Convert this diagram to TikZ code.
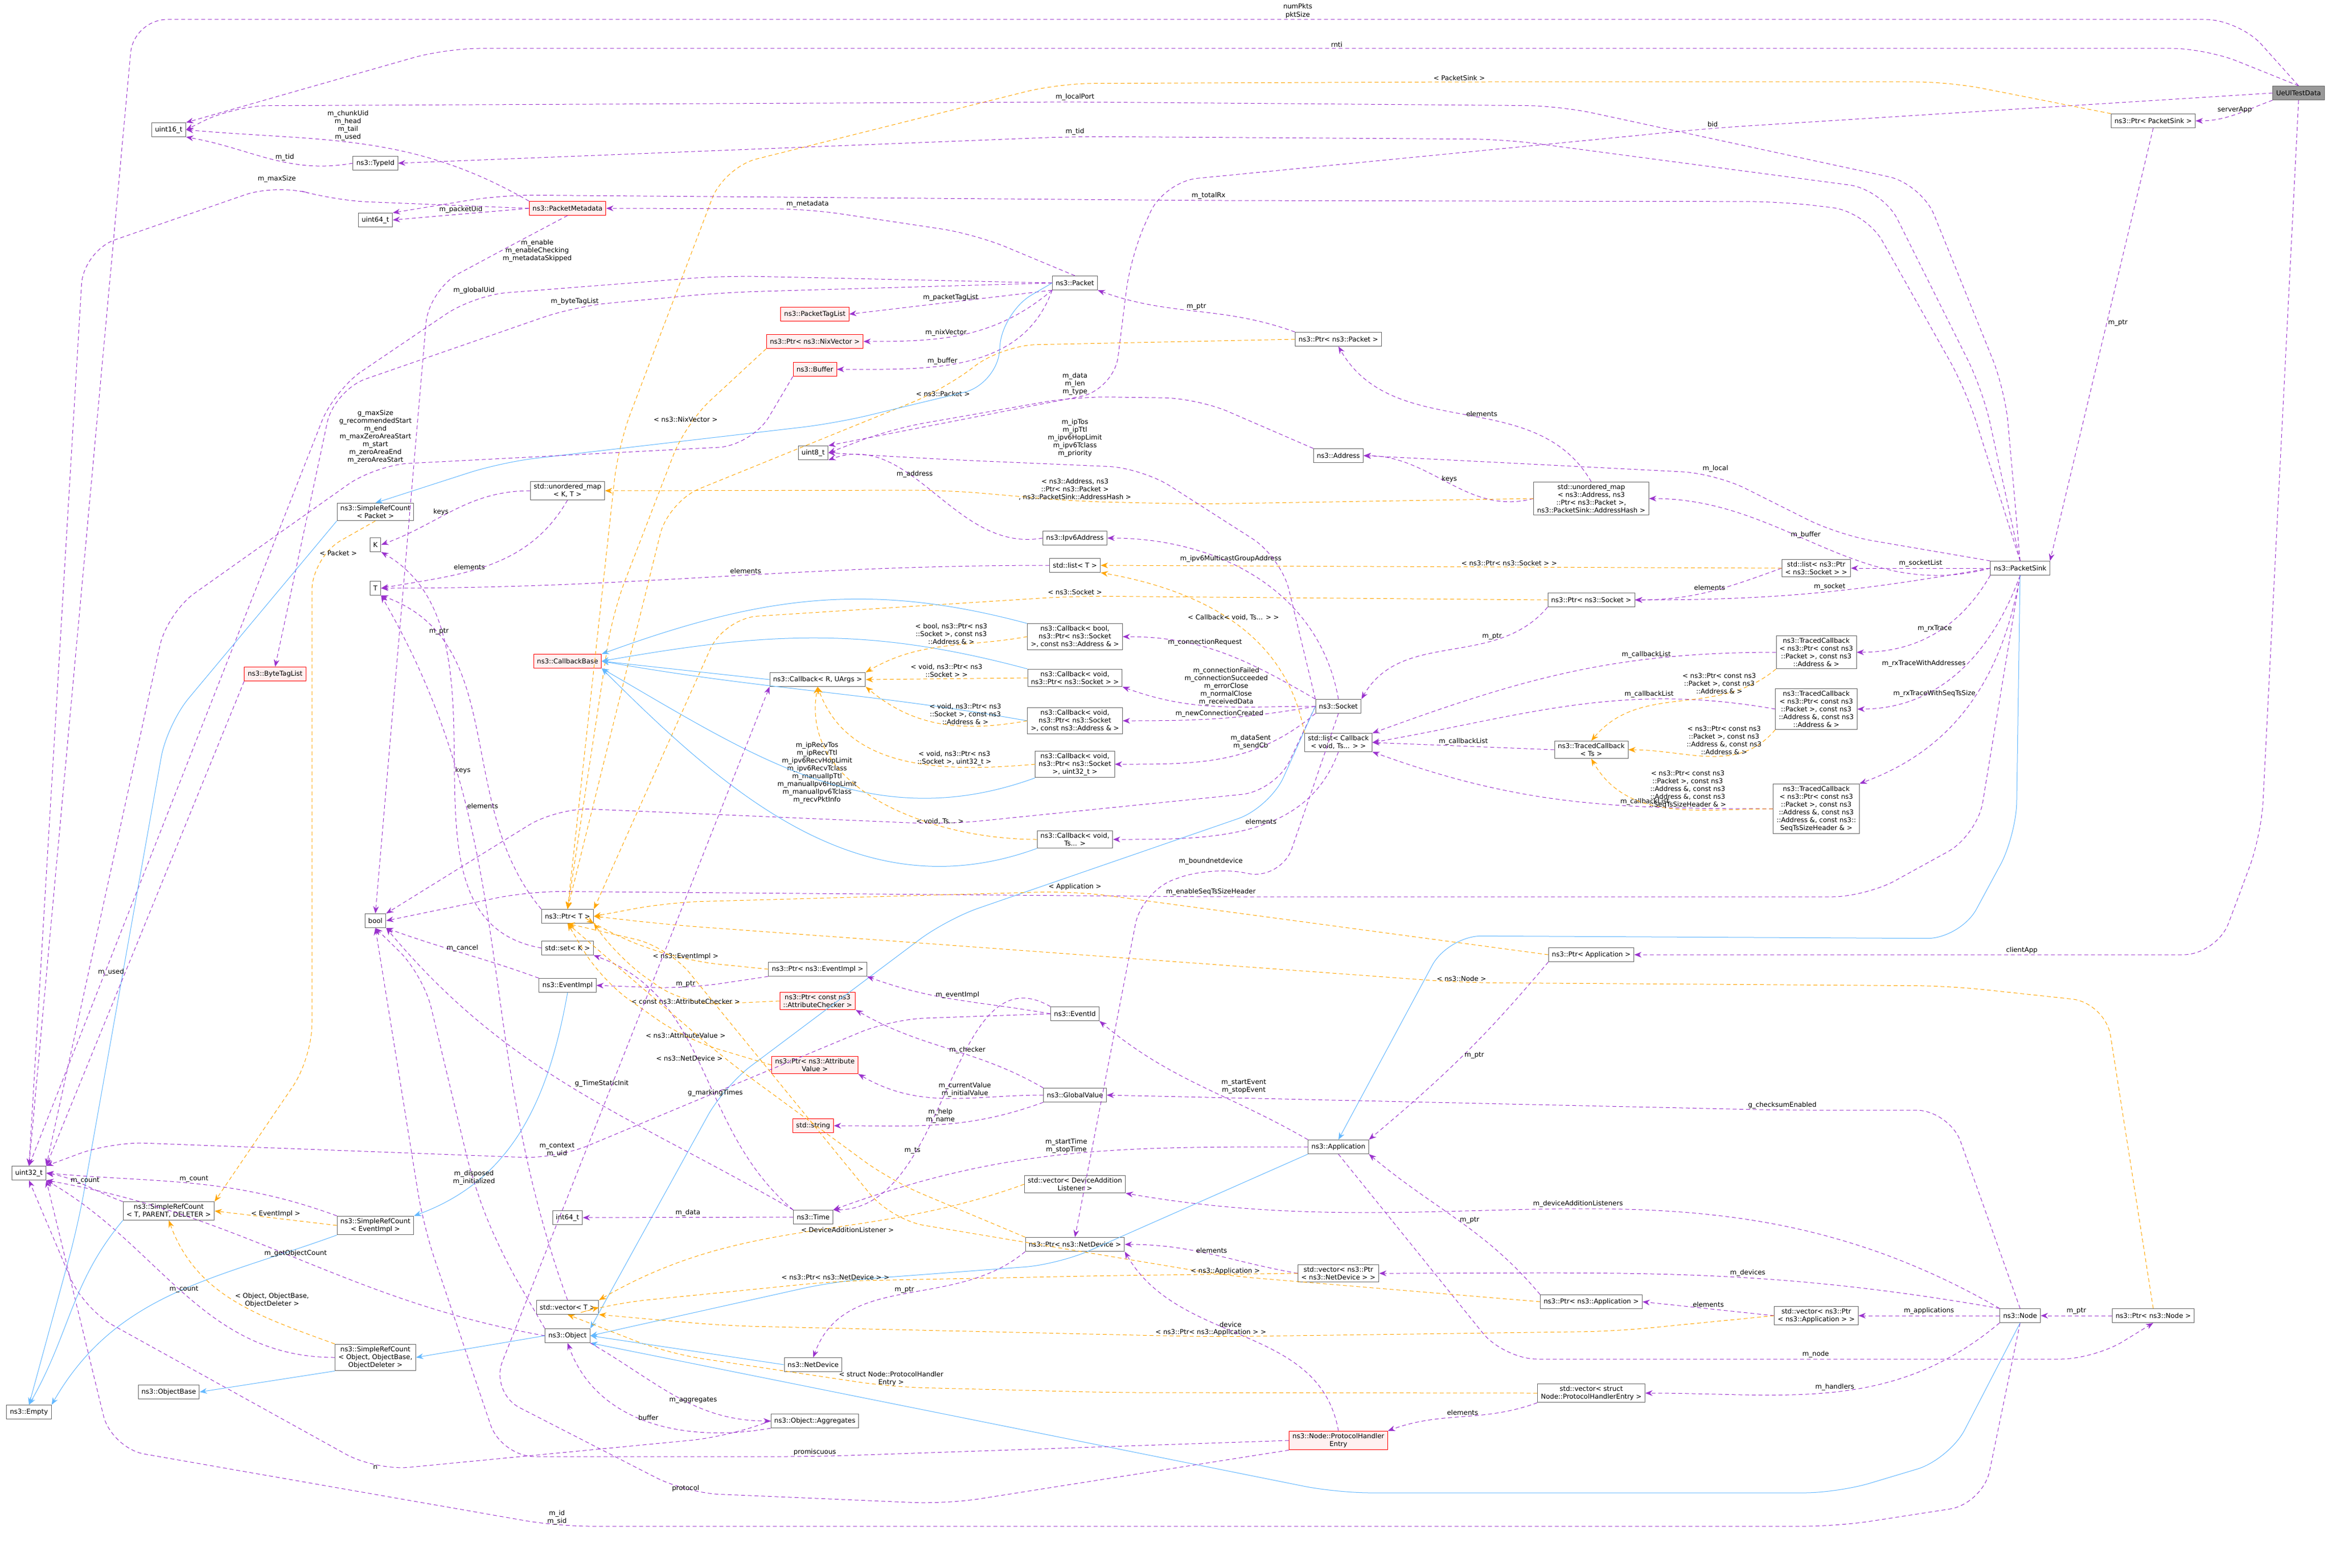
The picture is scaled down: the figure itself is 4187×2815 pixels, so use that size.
\documentclass[tikz,border=0pt]{standalone}
\usepackage{fontspec}
\setmainfont{DejaVu Sans}
\usetikzlibrary{arrows.meta}
\definecolor{usepurple}{HTML}{9A32CD}
\definecolor{tmplorange}{HTML}{FFA500}
\definecolor{inhblue}{HTML}{63B8FF}
\definecolor{nodegray}{HTML}{666666}
\definecolor{redfill}{HTML}{FFF0F0}
\newcommand{\lbl}{\fontsize{3}{3.5}\selectfont}
\tikzset{
  cls/.style={draw=nodegray, line width=0.25pt, fill=white, font=\lbl, align=center, inner xsep=1.5pt, inner ysep=1pt, minimum height=6.25pt},
  redcls/.style={cls, draw=red},
  rcls/.style={redcls, fill=redfill},
  usage/.style={draw=usepurple, line width=0.25pt, dash pattern=on 1.75pt off 1.25pt, -{Stealth[length=3.25pt,width=2.5pt]}},
  tmpl/.style={draw=tmplorange, line width=0.25pt, dash pattern=on 1.75pt off 1.25pt, -{Stealth[length=3.25pt,width=2.5pt]}},
  inherit/.style={draw=inhblue, line width=0.25pt, -{Stealth[length=3.25pt,width=2.5pt]}},
  route/.style={rounded corners=15pt},
  elabel/.style={font=\lbl, align=center, text=black, inner sep=0.5pt},
}
\begin{document}
\begin{tikzpicture}[x=0.25pt, y=-0.25pt]
\useasboundingbox (0,0) rectangle (4187,2815);
\fill[white] (0,0) rectangle (4187,2815);

% classes
\node[cls, fill=gray!80] (ueul) at (4127,167) {UeUlTestData};
\node[cls] (ptrsink) at (3866,217) {ns3::Ptr< PacketSink >};
\node[cls] (sink) at (3627,1020) {ns3::PacketSink};
\node[cls] (u16) at (303,233) {uint16\_t};
\node[cls] (typeid) at (674,293) {ns3::TypeId};
\node[cls] (u64) at (674,395) {uint64\_t};
\node[rcls] (meta) at (1019,374) {ns3::PacketMetadata};
\node[cls] (packet) at (1930,508) {ns3::Packet};
\node[rcls] (ptaglist) at (1463,564) {ns3::PacketTagList};
\node[rcls] (ptrnix) at (1463,613) {ns3::Ptr< ns3::NixVector >};
\node[rcls] (buffer) at (1463,663) {ns3::Buffer};
\node[cls] (ptrpacket) at (2403,609) {ns3::Ptr< ns3::Packet >};
\node[cls] (u8) at (1460,813) {uint8\_t};
\node[cls] (address) at (2403,818) {ns3::Address};
\node[cls] (umapaddr) at (2857,895) {std::unordered\_map\\< ns3::Address, ns3\\::Ptr< ns3::Packet >,\\ ns3::PacketSink::AddressHash >};
\node[cls] (srcpacket) at (674,919) {ns3::SimpleRefCount\\< Packet >};
\node[cls] (umapkt) at (1019,881) {std::unordered\_map\\< K, T >};
\node[cls] (kk) at (674,978) {K};
\node[cls] (ipv6) at (1930,966) {ns3::Ipv6Address};
\node[cls] (listT) at (1930,1015) {std::list< T >};
\node[cls] (tt) at (674,1056) {T};
\node[cls] (listsock) at (3261,1020) {std::list< ns3::Ptr\\< ns3::Socket > >};
\node[cls] (ptrsock) at (2857,1077) {ns3::Ptr< ns3::Socket >};
\node[rcls] (cbbase) at (1019,1187) {ns3::CallbackBase};
\node[cls] (cbbool) at (1930,1143) {ns3::Callback< bool,\\ ns3::Ptr< ns3::Socket\\ >, const ns3::Address \& >};
\node[cls] (cbRU) at (1468,1220) {ns3::Callback< R, UArgs >};
\node[cls] (cbvsock) at (1930,1217) {ns3::Callback< void,\\ ns3::Ptr< ns3::Socket > >};
\node[cls] (tc1) at (3261,1171) {ns3::TracedCallback\\< ns3::Ptr< const ns3\\::Packet >, const ns3\\::Address \& >};
\node[cls] (tc2) at (3261,1273) {ns3::TracedCallback\\< ns3::Ptr< const ns3\\::Packet >, const ns3\\::Address \&, const ns3\\::Address \& >};
\node[cls] (socket) at (2403,1268) {ns3::Socket};
\node[cls] (listcb) at (2403,1333) {std::list< Callback\\< void, Ts... > >};
\node[cls] (cbvaddr) at (1930,1294) {ns3::Callback< void,\\ ns3::Ptr< ns3::Socket\\ >, const ns3::Address \& >};
\node[cls] (tcts) at (2857,1346) {ns3::TracedCallback\\< Ts >};
\node[cls] (cbvu32) at (1930,1372) {ns3::Callback< void,\\ ns3::Ptr< ns3::Socket\\ >, uint32\_t >};
\node[cls] (tc3) at (3261,1452) {ns3::TracedCallback\\< ns3::Ptr< const ns3\\::Packet >, const ns3\\::Address \&, const ns3\\::Address \&, const ns3::\\SeqTsSizeHeader \& >};
\node[rcls] (bytetag) at (494,1210) {ns3::ByteTagList};
\node[cls] (cbvts) at (1930,1507) {ns3::Callback< void,\\ Ts... >};
\node[cls] (bool) at (674,1653) {bool};
\node[cls] (ptrT) at (1019,1645) {ns3::Ptr< T >};
\node[cls] (setK) at (1019,1702) {std::set< K >};
\node[cls] (ptrevimpl) at (1468,1740) {ns3::Ptr< ns3::EventImpl >};
\node[cls] (evimpl) at (1019,1769) {ns3::EventImpl};
\node[rcls] (ptrchk) at (1468,1797) {ns3::Ptr< const ns3\\::AttributeChecker >};
\node[cls] (evid) at (1930,1820) {ns3::EventId};
\node[cls] (ptrapp) at (2857,1714) {ns3::Ptr< Application >};
\node[rcls] (ptrattr) at (1463,1912) {ns3::Ptr< ns3::Attribute\\Value >};
\node[cls] (gval) at (1930,1966) {ns3::GlobalValue};
\node[rcls] (string) at (1460,2021) {std::string};
\node[cls] (app) at (2403,2059) {ns3::Application};
\node[cls] (vecdal) at (1930,2126) {std::vector< DeviceAddition\\Listener >};
\node[cls] (u32) at (52,2106) {uint32\_t};
\node[cls] (srctpd) at (303,2174) {ns3::SimpleRefCount\\< T, PARENT, DELETER >};
\node[cls] (i64) at (1019,2186) {int64\_t};
\node[cls] (time) at (1460,2185) {ns3::Time};
\node[cls] (srcev) at (674,2200) {ns3::SimpleRefCount\\< EventImpl >};
\node[cls] (ptrnetdev) at (1930,2234) {ns3::Ptr< ns3::NetDevice >};
\node[cls] (vecnetdev) at (2403,2286) {std::vector< ns3::Ptr\\< ns3::NetDevice > >};
\node[cls] (vecT) at (1019,2347) {std::vector< T >};
\node[cls] (ptrnsapp) at (2857,2337) {ns3::Ptr< ns3::Application >};
\node[cls] (vecapp) at (3261,2362) {std::vector< ns3::Ptr\\< ns3::Application > >};
\node[cls] (node) at (3627,2362) {ns3::Node};
\node[cls] (ptrnode) at (3866,2362) {ns3::Ptr< ns3::Node >};
\node[cls] (object) at (1019,2398) {ns3::Object};
\node[cls] (srcobj) at (674,2437) {ns3::SimpleRefCount\\< Object, ObjectBase,\\ ObjectDeleter >};
\node[cls] (netdev) at (1460,2450) {ns3::NetDevice};
\node[cls] (objbase) at (303,2499) {ns3::ObjectBase};
\node[cls] (vecphe) at (2857,2501) {std::vector< struct\\ Node::ProtocolHandlerEntry >};
\node[cls] (empty) at (52,2535) {ns3::Empty};
\node[cls] (aggr) at (1463,2551) {ns3::Object::Aggregates};
\node[rcls] (phe) at (2403,2586) {ns3::Node::ProtocolHandler\\Entry};

% UeUlTestData
\draw[usage, route] (ueul.north) -- (4020,35) -- (2330,35) node[elabel, above] {numPkts\\pktSize} -- (240,35) -- (u32.north);
\draw[usage, route] (ueul.north) -- (3960,87) -- (2400,87) node[elabel, above] {rnti} -- (800,87) -- (u16.north east);
\draw[usage, route] (ueul.west) -- (3075,230) node[elabel, above] {bid} -- (2090,326) -- (2030,460) -- (2000,700) -- (u8.north east);
\draw[usage] (ueul.south west) to[out=200, in=0] node[elabel, above] {serverApp} (ptrsink.east);
\draw[usage, route] (ueul.south) -- (4060,1500) -- (3980,1714) -- (3630,1714) node[elabel, above] {clientApp} -- (ptrapp.east);
\draw[usage] (ptrsink.south) -- node[elabel, right, pos=.45] {m\_ptr} (sink.north east);
\draw[tmpl, route] (ptrsink.north west) -- (3500,147) -- (2620,147) node[elabel, above] {< PacketSink >} -- (1900,150) -- (1300,300) -- (1110,800) -- (ptrT.north);

% PacketSink
\draw[usage, route] (sink.north) -- (3600,700) -- (3450,330) -- (2800,190) -- (1930,183) node[elabel, above] {m\_localPort} -- (420,190) -- (u16.east);
\draw[usage, route] (sink.north) -- (3560,700) -- (3380,340) -- (2700,250) -- (1930,245) node[elabel, above] {m\_tid} -- (typeid.east);
\draw[usage, route] (sink.north) -- (3530,700) -- (3350,380) -- (3200,362) -- (2170,360) node[elabel, above] {m\_totalRx} -- (900,350) -- (u64.north east);
\draw[usage, route] (sink.north west) -- (3300,960) -- (3080,850) node[elabel, above] {m\_local} -- (address.east);
\draw[usage] (sink.west) to[out=195, in=0] node[elabel, above, pos=.55] {m\_buffer} (umapaddr.east);
\draw[usage] (sink.west) -- node[elabel, above] {m\_socketList} (listsock.east);
\draw[usage] (sink.west) to[out=190, in=0] node[elabel, above, pos=.45] {m\_socket} (ptrsock.east);
\draw[usage] (sink.south west) to[out=240, in=0] node[elabel, above, pos=.5] {m\_rxTrace} (tc1.east);
\draw[usage] (sink.south) to[out=250, in=0] node[elabel, left, pos=.45] {m\_rxTraceWithAddresses} (tc2.east);
\draw[usage] (sink.south) to[out=260, in=20] node[elabel, left, pos=.45] {m\_rxTraceWithSeqTsSize} (tc3.north east);
\draw[usage, route] (sink.south) -- (3550,1500) -- (3350,1610) -- (2174,1610) node[elabel, above] {m\_enableSeqTsSizeHeader} -- (950,1600) -- (bool.east);
\draw[inherit, route] (sink.south) -- (3620,1500) -- (3520,1685) -- (2600,1680) -- (app.north);

\draw[usage] (listsock.west) to[out=200, in=0] node[elabel, above] {elements} (ptrsock.east);
\draw[tmpl] (listsock.west) -- node[elabel, above, pos=.4] {< ns3::Ptr< ns3::Socket > >} (listT.east);
\draw[usage] (ptrsock.south west) to[out=230, in=60] node[elabel, above, pos=.3] {m\_ptr} (socket.north east);
\draw[tmpl, route] (ptrsock.west) -- (1930,1070) node[elabel, above] {< ns3::Socket >} -- (1300,1110) -- (ptrT.north east);

\draw[usage] (umapaddr.west) to[out=195, in=0] node[elabel, above] {keys} (address.east);
\draw[usage] (umapaddr.north) to[out=120, in=-60] node[elabel, right] {elements} (ptrpacket.south);
\draw[tmpl, route] (umapaddr.west) -- (2150,905) -- (1930,900) node[elabel, above] {< ns3::Address, ns3\\::Ptr< ns3::Packet >\\, ns3::PacketSink::AddressHash >} -- (1700,880) -- (umapkt.east);
\draw[usage] (ptrpacket.north west) to[out=160, in=-20] node[elabel, above, pos=.5] {m\_ptr} (packet.south east);
\draw[tmpl, route] (ptrpacket.west) -- (1800,620) -- (1693,700) node[elabel, below] {< ns3::Packet >} -- (1200,900) -- (ptrT.north);
\draw[usage, route] (address.north west) -- (2150,715) -- (1930,712) node[elabel, above] {m\_data\\m\_len\\m\_type} -- (1600,770) -- (u8.east);

% Packet
\draw[usage, route] (packet.north) -- (1750,420) -- (1450,375) node[elabel, above] {m\_metadata} -- (meta.east);
\draw[usage] (packet.south west) -- node[elabel, above] {m\_packetTagList} (ptaglist.east);
\draw[usage] (packet.south west) to[out=220, in=0] node[elabel, above, pos=.6] {m\_nixVector} (ptrnix.east);
\draw[usage] (packet.south west) to[out=250, in=0] node[elabel, above, pos=.6] {m\_buffer} (buffer.east);
\draw[usage, route] (packet.west) -- (1300,495) -- (851,530) node[elabel, above] {m\_globalUid} -- (600,700) -- (u32.north);
\draw[usage, route] (packet.west) -- (1300,525) -- (1032,550) node[elabel, above] {m\_byteTagList} -- (600,700) -- (bytetag.north);
\draw[inherit, route] (packet.west) -- (1800,560) -- (1790,690) -- (1500,760) -- (900,830) -- (srcpacket.north);
\draw[usage] (meta.north west) to[out=150, in=-5] node[elabel, above, pos=.55] {m\_chunkUid\\m\_head\\m\_tail\\m\_used} (u16.east);
\draw[usage] (meta.west) -- node[elabel, above] {m\_packetUid} (u64.east);
\draw[usage, route] (meta.west) -- (600,360) -- (497,330) node[elabel, above] {m\_maxSize} -- (150,450) -- (u32.north);
\draw[usage, route] (meta.south) -- (900,450) node[elabel, right] {m\_enable\\m\_enableChecking\\m\_metadataSkipped} -- (770,520) -- (bool.north);
\draw[usage] (typeid.west) to[out=190, in=-10] node[elabel, above, pos=.4] {m\_tid} (u16.south east);
\draw[usage, route] (buffer.south west) -- (1350,800) -- (674,835) node[elabel, above] {g\_maxSize\\g\_recommendedStart\\m\_end\\m\_maxZeroAreaStart\\m\_start\\m\_zeroAreaEnd\\m\_zeroAreaStart} -- (300,1100) -- (u32.north east);
\draw[tmpl, route] (ptrnix.south west) -- (1231,760) node[elabel, above] {< ns3::NixVector >} -- (1100,1100) -- (ptrT.north);
\draw[tmpl, route] (srcpacket.south) -- (560,1000) node[elabel, right, pos=.9] {< Packet >} -- (560,1900) -- (srctpd.north east);
\draw[inherit, route] (srcpacket.south west) -- (300,1300) -- (140,2200) -- (empty.north);
\draw[usage] (bytetag.south west) -- node[elabel, left, pos=.6] {m\_used} (u32.north east);
\draw[usage] (umapkt.west) to[out=180, in=20] node[elabel, above, pos=.6] {keys} (kk.east);
\draw[usage] (umapkt.south) to[out=240, in=10] node[elabel, above, pos=.6] {elements} (tt.east);
\draw[usage] (listT.west) to[out=180, in=0] node[elabel, above, pos=.45] {elements} (tt.east);
\draw[usage] (setK.west) to[out=170, in=-30] node[elabel, right, pos=.5] {keys} (kk.south east);
\draw[usage] (vecT.north) to[out=110, in=-60] node[elabel, right, pos=.7] {elements} (tt.south east);
\draw[usage] (ptrT.north west) to[out=130, in=-20] node[elabel, above, pos=.8] {m\_ptr} (tt.south east);
\draw[usage] (ipv6.west) to[out=190, in=20] node[elabel, above, pos=.6] {m\_address} (u8.south east);

% Socket
\draw[usage] (socket.north) to[out=100, in=0] node[elabel, above, pos=.6] {m\_ipv6MulticastGroupAddress} (ipv6.east);
\draw[usage] (socket.north west) to[out=150, in=0] node[elabel, above, pos=.6] {m\_connectionRequest} (cbbool.east);
\draw[usage] (socket.west) to[out=180, in=-20] node[elabel, above, pos=.45] {m\_connectionFailed\\m\_connectionSucceeded\\m\_errorClose\\m\_normalClose\\m\_receivedData} (cbvsock.south east);
\draw[usage] (socket.west) to[out=190, in=0] node[elabel, above, pos=.5] {m\_newConnectionCreated} (cbvaddr.east);
\draw[usage] (socket.south west) to[out=220, in=0] node[elabel, above, pos=.35] {m\_dataSent\\m\_sendCb} (cbvu32.east);
\draw[usage, route] (socket.north west) -- (2300,1000) -- (2050,840) -- (1700,825) -- (u8.east) node[elabel] at (1930,786) {m\_ipTos\\m\_ipTtl\\m\_ipv6HopLimit\\m\_ipv6Tclass\\m\_priority};
\draw[usage, route] (socket.west) -- (2290,1420) -- (1700,1480) -- (1000,1450) -- (bool.north east);
\node[elabel] (lblrecv) at (1467,1387) {m\_ipRecvTos\\m\_ipRecvTtl\\m\_ipv6RecvHopLimit\\m\_ipv6RecvTclass\\m\_manualIpTtl\\m\_manualIpv6HopLimit\\m\_manualIpv6Tclass\\m\_recvPktInfo};
\draw[usage, route] (socket.south) -- (2300,1580) -- (2174,1555) node[elabel, above] {m\_boundnetdevice} -- (2050,1600) -- (ptrnetdev.north);
\draw[inherit, route] (socket.west) -- (2280,1450) -- (1700,1650) -- (1300,1950) -- (object.north east);

\draw[inherit] (cbbool.north west) to[out=165, in=20] (cbbase.north east);
\draw[inherit] (cbvsock.north west) to[out=165, in=10] (cbbase.east);
\draw[inherit] (cbvaddr.west) to[out=170, in=-10] (cbbase.east);
\draw[inherit] (cbvu32.south west) to[out=200, in=-30] (cbbase.south east);
\draw[inherit] (cbvts.south west) to[out=200, in=-45] (cbbase.south east);
\draw[inherit] (cbRU.west) -- (cbbase.east);
\draw[tmpl] (cbbool.west) to[out=190, in=30] node[elabel, above, pos=.45] {< bool, ns3::Ptr< ns3\\::Socket >, const ns3\\::Address \& >} (cbRU.north east);
\draw[tmpl] (cbvsock.west) -- node[elabel, above] {< void, ns3::Ptr< ns3\\::Socket > >} (cbRU.east);
\draw[tmpl] (cbvaddr.west) to[out=190, in=-40] node[elabel, above, pos=.35] {< void, ns3::Ptr< ns3\\::Socket >, const ns3\\::Address \& >} (cbRU.south east);
\draw[tmpl] (cbvu32.west) to[out=185, in=-70] node[elabel, above, pos=.3] {< void, ns3::Ptr< ns3\\::Socket >, uint32\_t >} (cbRU.south);
\draw[tmpl] (cbvts.west) to[out=180, in=-100] node[elabel, above, pos=.3] {< void, Ts... >} (cbRU.south);
\draw[usage] (listcb.south) to[out=250, in=0] node[elabel, above, pos=.45] {elements} (cbvts.east);
\draw[tmpl] (listcb.north west) to[out=100, in=-10] node[elabel, above, pos=.5] {< Callback< void, Ts... > >} (listT.south east);
\draw[usage] (tcts.west) -- node[elabel, above] {m\_callbackList} (listcb.east);
\draw[usage] (tc1.west) to[out=180, in=20] node[elabel, above, pos=.3] {m\_callbackList} (listcb.north east);
\draw[usage] (tc2.west) to[out=170, in=10] node[elabel, above, pos=.3] {m\_callbackList} (listcb.east);
\draw[usage] (tc3.west) to[out=180, in=-20] node[elabel, above, pos=.3] {m\_callbackList} (listcb.south east);
\draw[tmpl] (tc1.south west) to[out=220, in=50] node[elabel, above, pos=.3] {< ns3::Ptr< const ns3\\::Packet >, const ns3\\::Address \& >} (tcts.north);
\draw[tmpl] (tc2.south west) to[out=230, in=0] node[elabel, above, pos=.4] {< ns3::Ptr< const ns3\\::Packet >, const ns3\\::Address \&, const ns3\\::Address \& >} (tcts.east);
\draw[tmpl] (tc3.west) to[out=180, in=-60] node[elabel, above, pos=.4] {< ns3::Ptr< const ns3\\::Packet >, const ns3\\::Address \&, const ns3\\::Address \&, const ns3\\::SeqTsSizeHeader \& >} (tcts.south);

% events, attributes
\draw[usage, route] (ptrevimpl.south west) -- (1231,1775) node[elabel, above] {m\_ptr} -- (evimpl.east);
\draw[tmpl, route] (ptrevimpl.west) -- (1231,1725) node[elabel, above] {< ns3::EventImpl >} -- (1100,1680) -- (ptrT.south east);
\draw[usage] (evimpl.north west) to[out=160, in=-20] node[elabel, above, pos=.5] {m\_cancel} (bool.south east);
\draw[inherit] (evimpl.south) to[out=260, in=20] (srcev.north east);
\draw[tmpl] (srcev.west) -- node[elabel, above] {< EventImpl >} (srctpd.east);
\draw[usage] (srcev.north west) to[out=160, in=-5] node[elabel, above, pos=.5] {m\_count} (u32.east);
\draw[inherit] (srcev.south west) to[out=200, in=60] (empty.north east);
\draw[usage] (evid.west) to[out=170, in=-20] node[elabel, above, pos=.5] {m\_eventImpl} (ptrevimpl.south east);
\draw[usage, route] (evid.west) -- (1600,1830) -- (1000,2080) node[elabel, above] {m\_context\\m\_uid} -- (200,2050) -- (u32.north east);
\draw[usage] (evid.north west) to[out=150, in=0] node[elabel, above, pos=.7] {m\_ts} (time.north east);
\draw[tmpl, route] (ptrchk.west) -- (1231,1805) node[elabel, above] {< const ns3::AttributeChecker >} -- (1110,1720) -- (ptrT.south east);
\draw[tmpl, route] (ptrattr.west) -- (1231,1866) node[elabel, above] {< ns3::AttributeValue >} -- (1080,1760) -- (ptrT.south);
\draw[usage] (gval.west) to[out=180, in=-30] node[elabel, above, pos=.4] {m\_currentValue\\m\_initialValue} (ptrattr.south east);
\draw[usage] (gval.south west) to[out=200, in=0] node[elabel, above, pos=.5] {m\_help\\m\_name} (string.east);
\draw[usage] (gval.north west) to[out=150, in=-30] node[elabel, above, pos=.4] {m\_checker} (ptrchk.south east);
\draw[usage, route] (node.north) -- (3500,1993) -- (3200,1993) node[elabel, above] {g\_checksumEnabled} -- (gval.east);

% application
\draw[usage] (app.north west) to[out=150, in=-40] node[elabel, above right, pos=.4] {m\_startEvent\\m\_stopEvent} (evid.south east);
\draw[usage] (app.west) to[out=180, in=20] node[elabel, above, pos=.5] {m\_startTime\\m\_stopTime} (time.north east);
\draw[usage, route] (app.south) -- (2700,2440) -- (3260,2440) node[elabel, above] {m\_node} -- (3760,2440) -- (ptrnode.south);
\draw[inherit, route] (app.south west) -- (1900,2270) -- (1500,2300) -- (object.east);
\draw[usage] (ptrapp.south west) to[out=230, in=40] node[elabel, right, pos=.5] {m\_ptr} (app.north east);
\draw[tmpl, route] (ptrapp.west) -- (1930,1600) node[elabel, above] {< Application >} -- (1200,1620) -- (ptrT.east);
\draw[usage] (ptrnsapp.north west) to[out=130, in=-40] node[elabel, right, pos=.5] {m\_ptr} (app.south east);
\draw[tmpl, route] (ptrnsapp.west) -- (2200,2290) node[elabel, above] {< ns3::Application >} -- (1600,2190) -- (1200,1700) -- (ptrT.south);
\draw[usage] (time.west) -- node[elabel, above] {m\_data} (i64.east);
\draw[usage] (time.north west) to[out=150, in=-50] node[elabel, above right, pos=.5] {g\_TimeStaticInit} (bool.south east);
\draw[usage] (time.north west) to[out=140, in=-20] node[elabel, above, pos=.4] {g\_markingTimes} (setK.south east);
\draw[tmpl] (vecdal.west) to[out=200, in=30] node[elabel, below, pos=.4] {< DeviceAdditionListener >} (vecT.north east);

% node
\draw[usage] (node.north west) to[out=150, in=-10] node[elabel, above, pos=.5] {m\_deviceAdditionListeners} (vecdal.south east);
\draw[usage] (node.north west) to[out=170, in=0] node[elabel, above, pos=.4] {m\_devices} (vecnetdev.east);
\draw[usage] (node.west) -- node[elabel, above] {m\_applications} (vecapp.east);
\draw[usage] (node.south west) to[out=220, in=0] node[elabel, above, pos=.5] {m\_handlers} (vecphe.east);
\draw[usage, route] (node.south) -- (3560,2700) -- (3300,2740) -- (1000,2740) node[elabel, above] {m\_id\\m\_sid} -- (200,2600) -- (u32.south east);
\draw[inherit, route] (node.south) -- (3500,2620) -- (3300,2680) -- (2400,2680) -- (object.south east);
\draw[usage] (ptrnode.west) -- node[elabel, above] {m\_ptr} (node.east);
\draw[tmpl, route] (ptrnode.north) -- (3780,1800) -- (3500,1770) -- (2624,1764) node[elabel, above] {< ns3::Node >} -- (1200,1660) -- (ptrT.east);
\draw[usage] (vecnetdev.west) to[out=170, in=0] node[elabel, above, pos=.5] {elements} (ptrnetdev.east);
\draw[tmpl, route] (vecnetdev.west) -- (2000,2290) -- (1500,2300) node[elabel, above] {< ns3::Ptr< ns3::NetDevice > >} -- (1100,2340) -- (vecT.east);
\draw[usage] (vecapp.west) -- node[elabel, above] {elements} (ptrnsapp.east);
\draw[tmpl, route] (vecapp.west) -- (2900,2390) -- (2174,2400) node[elabel, above] {< ns3::Ptr< ns3::Application > >} -- (1300,2380) -- (vecT.south east);
\draw[usage] (vecphe.south west) to[out=200, in=20] node[elabel, above, pos=.5] {elements} (phe.north east);
\draw[tmpl, route] (vecphe.west) -- (2000,2500) -- (1600,2490) node[elabel, above] {< struct Node::ProtocolHandler\\Entry >} -- (1200,2430) -- (vecT.south);
\draw[usage] (phe.north) to[out=100, in=-60] node[elabel, right, pos=.6] {device} (ptrnetdev.south east);
\draw[usage, route] (phe.west) -- (1463,2615) node[elabel, above] {promiscuous} -- (900,2615) -- (760,2200) -- (bool.south);
\draw[usage, route] (phe.south west) -- (1700,2700) -- (1231,2680) node[elabel, above] {protocol} -- (880,2500) -- (cbRU.south west);
\draw[usage] (ptrnetdev.south west) to[out=220, in=70] node[elabel, above, pos=.5] {m\_ptr} (netdev.north);
\draw[tmpl, route] (ptrnetdev.north west) -- (1600,2120) -- (1300,1900) node[elabel, left] {< ns3::NetDevice >} -- (ptrT.south);
\draw[inherit] (netdev.west) -- (object.east);

% object
\draw[usage] (object.south east) to[out=-30, in=180] node[elabel, above, pos=.6] {m\_aggregates} (aggr.west);
\draw[usage] (aggr.south west) to[out=190, in=-70] node[elabel, above, pos=.5] {buffer} (object.south);
\draw[usage, route] (aggr.west) -- (1300,2580) -- (674,2640) node[elabel, above] {n} -- (150,2350) -- (u32.south);
\draw[usage, route] (object.north west) -- (900,2250) -- (851,2130) node[elabel, above] {m\_disposed\\m\_initialized} -- (760,1750) -- (bool.south);
\draw[usage] (object.west) to[out=170, in=-10] node[elabel, above, pos=.5] {m\_getObjectCount} (u32.south east);
\draw[inherit] (object.west) -- (srcobj.east);
\draw[tmpl] (srcobj.north west) to[out=160, in=-70] node[elabel, right, pos=.5] {< Object, ObjectBase,\\ObjectDeleter >} (srctpd.south);
\draw[usage] (srcobj.west) to[out=180, in=-30] node[elabel, above, pos=.5] {m\_count} (u32.south east);
\draw[inherit] (srcobj.south west) -- (objbase.east);
\draw[usage] (srctpd.north west) to[out=160, in=-10] node[elabel, above, pos=.5] {m\_count} (u32.east);
\draw[inherit] (srctpd.south west) to[out=230, in=60] (empty.north);
\end{tikzpicture}
\end{document}
